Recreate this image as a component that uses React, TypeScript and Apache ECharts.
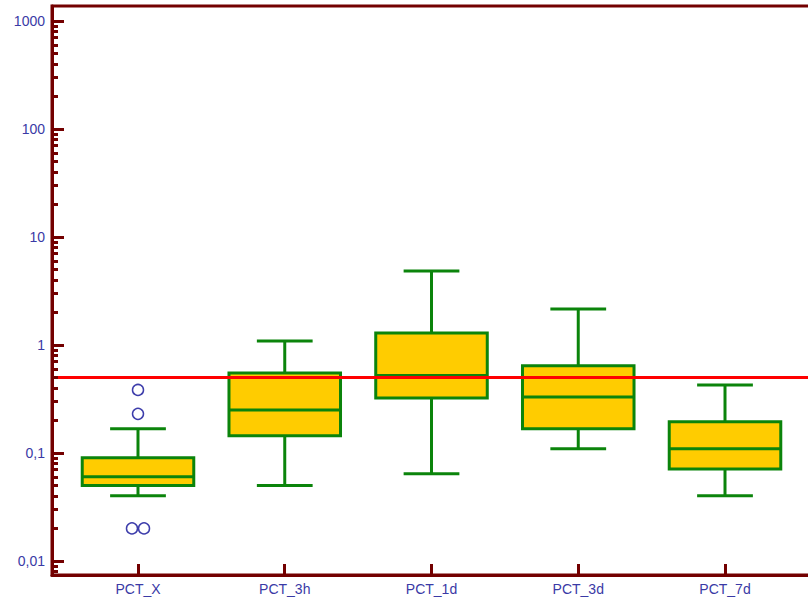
import React, { useEffect, useRef } from "react";
import * as echarts from "echarts";

const categories = ["PCT_X", "PCT_3h", "PCT_1d", "PCT_3d", "PCT_7d"];
const whiskerLow = [0.04, 0.05, 0.064, 0.109, 0.04];
const q1 = [0.05, 0.144, 0.323, 0.167, 0.071];
const median = [0.06, 0.25, 0.52, 0.33, 0.109];
const q3 = [0.09, 0.55, 1.29, 0.64, 0.194];
const whiskerHigh = [0.167, 1.09, 4.84, 2.15, 0.426];

const outlierCategory = [0, 0, 0, 0];
const outlierJitter = [0, 0, -0.041, 0.041];
const outlierValues = [0.383, 0.23, 0.02, 0.02];

const referenceLevel = 0.5;

const yTickValues = [1000, 100, 10, 1, 0.1, 0.01];
const yTickLabels = ["1000", "100", "10", "1", "0,1", "0,01"];
const yMinValue = 0.0074;
const yMaxValue = 1377;

const AXIS = "#730000";
const LABEL = "#3a3aa6";
const GREEN = "#0b840b";
const FILL = "#ffcc00";

const lg = (v: number) => Math.log10(v);

export default function App() {
  const ref = useRef<HTMLDivElement>(null);
  useEffect(() => {
    if (!ref.current) return;
    const chart = echarts.init(ref.current, undefined, { renderer: "svg" });
    const yMin = lg(yMinValue);
    const yMax = lg(yMaxValue);
    const majorLogs = yTickValues.map(lg);
    const minorLogs: number[] = [];
    for (let d = -3; d <= 3; d++) {
      for (let k = 2; k <= 9; k++) {
        const v = lg(k * Math.pow(10, d));
        if (v > yMin && v < yMax) minorLogs.push(v);
      }
    }
    const boxData = categories.map((_, i) => [
      i,
      lg(whiskerLow[i]),
      lg(q1[i]),
      lg(median[i]),
      lg(q3[i]),
      lg(whiskerHigh[i]),
    ]);
    const outlierData = outlierValues.map((v, i) => [
      outlierCategory[i] + outlierJitter[i],
      lg(v),
    ]);
    const labelFor = (val: number) => {
      const idx = majorLogs.findIndex((m) => Math.abs(m - val) < 1e-6);
      return idx >= 0 ? yTickLabels[idx] : "";
    };
    chart.setOption({
      animation: false,
      backgroundColor: "#ffffff",
      grid: {
        left: 52,
        top: 6,
        right: -3,
        bottom: 26,
        show: true,
        borderColor: AXIS,
        borderWidth: 3,
        backgroundColor: "transparent",
        outerBoundsMode: "none",
        containLabel: false,
      },
      xAxis: {
        type: "value",
        min: -0.586,
        max: 4.586,
        axisLine: { show: true, onZero: false, lineStyle: { color: AXIS, width: 3 } },
        axisTick: {
          show: true,
          inside: true,
          length: 11,
          customValues: [0, 1, 2, 3, 4],
          lineStyle: { color: AXIS, width: 3 },
        },
        axisLabel: {
          show: true,
          customValues: [0, 1, 2, 3, 4],
          formatter: (v: number) => categories[Math.round(v)] ?? "",
          color: LABEL,
          fontSize: 14,
          fontFamily: "Liberation Sans, Arial, sans-serif",
          margin: 7,
        },
        splitLine: { show: false },
      },
      yAxis: [
        {
          type: "value",
          min: yMin,
          max: yMax,
          z: 6,
          axisLine: { show: true, onZero: false, lineStyle: { color: AXIS, width: 3 } },
          axisTick: {
            show: true,
            inside: true,
            length: 12,
            customValues: majorLogs,
            lineStyle: { color: AXIS, width: 3 },
          },
          axisLabel: {
            show: true,
            customValues: majorLogs,
            formatter: (v: number) => labelFor(v),
            color: LABEL,
            fontSize: 14,
            fontFamily: "Liberation Sans, Arial, sans-serif",
            margin: 7,
          },
          splitLine: { show: false },
        },
        {
          type: "value",
          min: yMin,
          max: yMax,
          position: "left",
          z: 6,
          axisLine: { show: false, onZero: false },
          axisTick: {
            show: true,
            inside: true,
            length: 6,
            customValues: minorLogs,
            lineStyle: { color: AXIS, width: 3 },
          },
          axisLabel: { show: false },
          splitLine: { show: false },
        },
      ],
      series: [
        {
          type: "custom",
          z: 2,
          data: boxData,
          renderItem: (params: any, api: any) => {
            const x = api.value(0);
            const pLo = api.coord([x, api.value(1)]);
            const pQ1 = api.coord([x, api.value(2)]);
            const pMed = api.coord([x, api.value(3)]);
            const pQ3 = api.coord([x, api.value(4)]);
            const pHi = api.coord([x, api.value(5)]);
            const bl = api.coord([x - 0.38, api.value(3)])[0];
            const br = api.coord([x + 0.38, api.value(3)])[0];
            const cl = api.coord([x - 0.19, api.value(3)])[0];
            const cr = api.coord([x + 0.19, api.value(3)])[0];
            const ls = { stroke: GREEN, lineWidth: 3 };
            return {
              type: "group",
              children: [
                { type: "line", shape: { x1: pHi[0], y1: pHi[1], x2: pQ3[0], y2: pQ3[1] }, style: ls },
                { type: "line", shape: { x1: pQ1[0], y1: pQ1[1], x2: pLo[0], y2: pLo[1] }, style: ls },
                { type: "line", shape: { x1: cl, y1: pHi[1], x2: cr, y2: pHi[1] }, style: ls },
                { type: "line", shape: { x1: cl, y1: pLo[1], x2: cr, y2: pLo[1] }, style: ls },
                {
                  type: "rect",
                  shape: { x: bl, y: pQ3[1], width: br - bl, height: pQ1[1] - pQ3[1] },
                  style: { fill: FILL, stroke: GREEN, lineWidth: 3 },
                },
                { type: "line", shape: { x1: bl, y1: pMed[1], x2: br, y2: pMed[1] }, style: ls },
              ],
            };
          },
        },
        {
          type: "scatter",
          z: 5,
          data: outlierData,
          symbol: "circle",
          symbolSize: 11,
          itemStyle: { color: "#ffffff", borderColor: "#3d3dab", borderWidth: 1.5, opacity: 1 },
          markLine: {
            silent: true,
            symbol: ["none", "none"],
            label: { show: false },
            lineStyle: { color: "#ff0000", width: 3, type: "solid" },
            data: [{ yAxis: lg(referenceLevel) }],
          },
        },
      ],
    });
    return () => chart.dispose();
  }, []);
  return (
    <div
      ref={ref}
      style={{ position: "fixed", left: 0, top: 0, width: 808, height: 601, background: "#fff" }}
    />
  );
}
